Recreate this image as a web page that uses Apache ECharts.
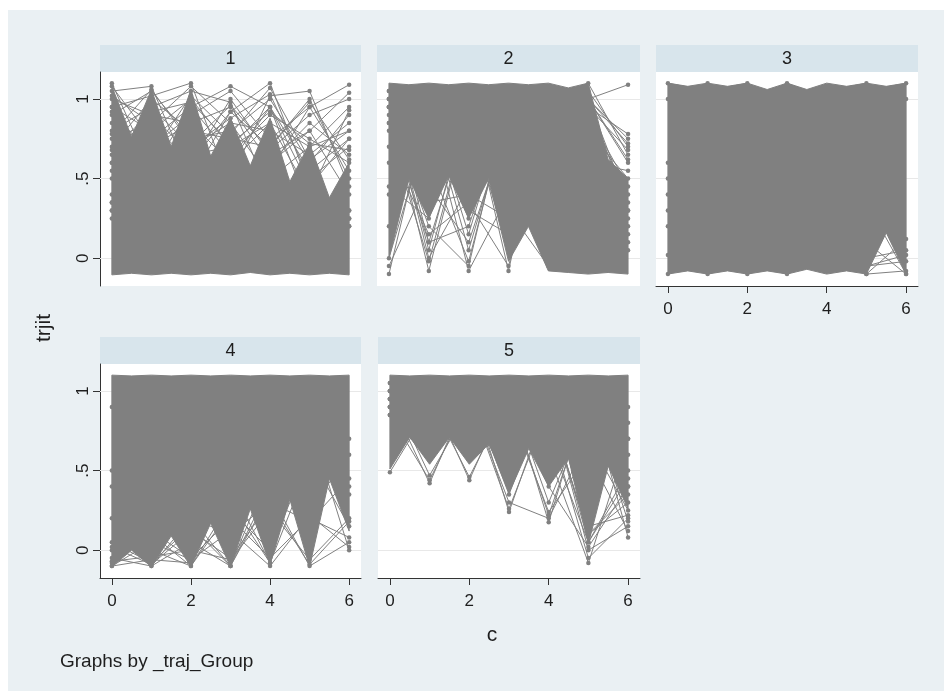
<!DOCTYPE html>
<html><head><meta charset="utf-8">
<script src="https://cdn.jsdelivr.net/npm/echarts@6/dist/echarts.min.js"></script>
<style>html,body{margin:0;padding:0;background:#fff}#c{width:944px;height:691px}</style>
</head><body><div id="c"></div>
<script>
// ---------- data ----------
const panelNames = ['1', '2', '3', '4', '5'];
const waveX = [0, 1, 2, 3, 4, 5, 6];
const bandX = [0, 0.5, 1, 1.5, 2, 2.5, 3, 3.5, 4, 4.5, 5, 5.5, 6];
const xTickValues = [0, 2, 4, 6];
const yTickValues = [0, 0.5, 1];
const yTickLabels = ['0', '.5', '1'];
const xTitle = 'c';
const yTitle = 'trjit';
const noteText = 'Graphs by _traj_Group';

// group 1: dense core (upper / lower outline) and sparse trajectories
const g1Upper = [1.08, 0.76, 1.06, 0.70, 1.06, 0.64, 0.88, 0.58, 0.88, 0.48, 0.72, 0.38, 0.60];
const g1Lower = [-0.105, -0.095, -0.105, -0.095, -0.105, -0.095, -0.105, -0.09, -0.105, -0.095, -0.105, -0.095, -0.105];
const g1Lines = [
  [1.10, 0.55, 0.40, 0.35, 0.30, 0.25, 0.20],
  [1.05, 1.08, 0.50, 0.40, 0.35, 0.30, 0.25],
  [0.95, 1.02, 1.10, 0.45, 0.35, 0.30, 0.20],
  [0.60, 0.95, 1.05, 0.98, 0.40, 0.35, 0.30],
  [0.50, 0.55, 0.95, 1.08, 0.95, 0.30, 0.25],
  [0.40, 0.45, 0.50, 0.92, 1.10, 0.45, 0.30],
  [0.35, 0.40, 0.45, 0.50, 1.02, 1.05, 0.45],
  [0.30, 0.35, 0.40, 0.45, 0.55, 0.95, 1.09],
  [0.30, 0.30, 0.35, 0.40, 0.60, 0.80, 1.04],
  [0.25, 0.30, 0.35, 0.60, 0.85, 0.40, 0.93],
  [0.35, 0.40, 0.70, 0.85, 0.50, 0.70, 0.80],
  [0.95, 0.80, 1.00, 0.70, 0.95, 0.55, 0.75],
  [1.00, 0.90, 0.85, 0.95, 0.60, 0.85, 0.65],
  [0.90, 1.05, 0.75, 0.80, 1.00, 0.60, 0.90],
  [0.85, 0.70, 0.90, 1.05, 0.75, 0.95, 0.55],
  [0.80, 0.95, 0.70, 0.88, 1.03, 0.50, 0.70],
  [1.08, 0.75, 0.95, 0.65, 0.90, 0.75, 0.60],
  [0.70, 1.00, 0.80, 0.75, 0.70, 1.00, 0.50],
  [0.75, 0.85, 1.08, 0.85, 0.80, 0.65, 0.85],
  [0.65, 0.80, 0.60, 1.00, 0.65, 0.80, 0.40],
  [0.60, 0.70, 0.85, 0.60, 0.95, 0.45, 0.75],
  [0.55, 0.90, 0.65, 0.70, 0.85, 0.70, 0.95],
  [1.02, 0.85, 0.60, 0.92, 0.70, 0.98, 0.62],
  [0.92, 0.65, 1.02, 0.78, 1.07, 0.62, 0.80],
  [0.78, 1.06, 0.72, 0.96, 0.68, 0.90, 1.00],
  [0.68, 0.92, 0.98, 0.72, 0.92, 0.72, 0.68]
];

// group 2
const g2Upper = [1.10, 1.09, 1.10, 1.09, 1.10, 1.09, 1.10, 1.09, 1.10, 1.07, 1.10, 0.62, 0.50];
const g2Lower = [0.00, 0.50, 0.25, 0.52, 0.25, 0.50, -0.02, 0.20, -0.08, -0.09, -0.10, -0.09, -0.10];
const g2Lines = [
  [0.95, -0.08, 0.90, 0.85, 0.95, 1.00, 0.30],
  [-0.10, 0.95, 0.05, 0.90, 1.00, 0.95, 0.20],
  [1.00, 0.05, 1.00, -0.08, 1.05, 0.90, 0.40],
  [0.90, 0.20, -0.05, 1.00, 0.10, 0.85, 0.10],
  [0.85, 0.30, 0.95, 0.10, 0.95, 1.00, 0.60],
  [1.05, 0.10, 0.20, 0.95, 0.90, 1.05, 0.70],
  [0.20, 1.00, 0.30, 0.15, 0.80, 0.95, 0.25],
  [0.95, 0.40, 0.85, 0.30, -0.05, 0.70, 0.05],
  [0.80, -0.02, 0.90, 0.95, 0.15, 0.95, 0.78],
  [1.00, 0.45, 0.10, 0.85, 1.00, 1.10, 0.65],
  [0.70, 0.15, 0.35, -0.05, 0.90, 0.80, 0.50],
  [0.60, 0.90, -0.08, 0.40, 0.95, 1.00, 1.09],
  [0.45, 0.25, 0.90, 0.20, 0.60, 1.00, 0.72],
  [0.95, 0.35, 0.40, 0.25, 1.00, 0.60, 0.55],
  [-0.05, 0.50, 0.95, 0.35, 1.00, 0.90, 0.45],
  [1.00, 0.00, 0.45, 0.90, 0.95, 1.00, 0.35],
  [0.40, 0.95, 0.15, 1.00, 0.85, 0.90, 0.30],
  [0.95, 0.60, -0.02, 0.95, 0.05, 0.95, 0.15],
  [0.85, 0.10, 0.90, 0.05, 0.95, 1.00, 0.62],
  [0.00, 0.85, 0.25, 0.95, 0.20, 1.00, 0.75],
  [1.05, 0.30, 0.95, 0.15, 1.00, 0.95, 0.68]
];

// group 3
const g3Upper = [1.10, 1.08, 1.10, 1.08, 1.10, 1.06, 1.10, 1.06, 1.10, 1.08, 1.10, 1.08, 1.10];
const g3Lower = [-0.10, -0.08, -0.10, -0.08, -0.10, -0.08, -0.10, -0.07, -0.10, -0.08, -0.10, 0.16, -0.10];
const g3Lines = [
  [1.10, 1.05, 1.10, 0.95, 1.05, 1.10, 1.00],
  [1.00, 1.10, 0.98, 1.10, 1.00, 1.05, 1.10],
  [-0.10, 0.00, -0.10, -0.02, -0.08, -0.05, 0.02],
  [0.02, -0.10, -0.03, -0.10, 0.00, -0.10, -0.08],
  [0.30, 0.20, 0.40, 0.50, 0.30, -0.05, -0.02],
  [0.60, 0.40, 0.30, 0.20, 0.40, 0.00, 0.05],
  [0.50, 0.60, 0.40, 0.30, 0.20, 0.10, -0.10],
  [0.20, 0.30, 0.10, 0.20, 0.10, -0.10, 0.12],
  [0.40, 0.30, 0.20, 0.30, 0.25, 0.35, -0.10]
];

// group 4
const g4Upper = [1.10, 1.095, 1.10, 1.095, 1.10, 1.095, 1.10, 1.095, 1.10, 1.095, 1.10, 1.095, 1.10];
const g4Lower = [-0.105, 0.00, -0.105, 0.09, -0.105, 0.17, -0.105, 0.26, -0.09, 0.32, -0.105, 0.45, 0.12];
const g4Lines = [
  [-0.10, -0.06, -0.08, 0.60, 0.80, 0.90, 0.70],
  [-0.05, -0.10, 0.05, -0.10, 0.50, 0.70, 0.40],
  [-0.08, 0.10, -0.10, 0.30, -0.08, 0.80, 0.00],
  [0.05, -0.08, 0.15, -0.10, 0.35, -0.10, 0.05],
  [0.00, 0.12, -0.05, 0.20, -0.05, 0.20, 0.08],
  [0.50, -0.10, 0.20, 0.10, 0.30, 0.18, 0.45],
  [0.20, 0.00, -0.10, 0.25, 0.00, 0.60, 0.15],
  [0.40, 0.30, 0.20, -0.10, 0.40, 0.25, 0.60],
  [0.90, 0.60, 0.50, 0.40, -0.08, 0.55, 0.35],
  [-0.10, 0.05, -0.06, 0.12, -0.10, 0.22, 0.02],
  [-0.07, -0.04, 0.00, -0.06, 0.25, -0.06, 0.20],
  [0.02, -0.09, 0.12, -0.05, 0.30, -0.09, 0.18]
];

// group 5
const g5Upper = [1.10, 1.095, 1.10, 1.095, 1.10, 1.095, 1.10, 1.095, 1.10, 1.095, 1.10, 1.095, 1.10];
const g5Lower = [0.51, 0.71, 0.54, 0.71, 0.54, 0.67, 0.36, 0.64, 0.40, 0.58, 0.04, 0.53, 0.26];
const g5Lines = [
  [0.49, 0.90, 0.95, 0.85, 0.90, 0.80, 0.70],
  [0.95, 0.42, 1.00, 0.90, 0.85, 0.95, 0.60],
  [1.00, 0.47, 0.90, 0.42, 1.00, 0.75, 0.90],
  [0.90, 1.00, 0.44, 1.00, 0.30, 0.90, 0.40],
  [0.85, 0.95, 1.05, 0.24, 0.95, 0.40, 0.80],
  [0.95, 0.90, 0.95, 0.30, 0.20, 0.70, 0.25],
  [1.00, 0.85, 0.90, 1.00, 0.175, 1.00, 0.08],
  [0.90, 1.00, 0.95, 0.80, 0.60, -0.08, 0.70],
  [0.85, 0.90, 1.00, 0.90, 0.95, 0.00, 0.15],
  [1.05, 0.95, 0.85, 0.95, 0.70, 0.05, 0.50],
  [0.95, 1.00, 0.90, 0.85, 0.80, -0.05, 0.20],
  [0.90, 0.85, 0.95, 0.60, 0.90, 0.10, 0.35],
  [1.00, 0.95, 1.00, 0.90, 0.24, 0.60, 0.12],
  [0.95, 1.00, 0.95, 0.26, 0.90, 0.10, 0.30],
  [1.00, 0.95, 0.46, 0.95, 0.22, 0.95, 0.18],
  [0.90, 1.00, 0.90, 0.95, 0.40, 0.02, 0.40],
  [1.05, 0.90, 1.00, 0.35, 1.00, 0.15, 0.22],
  [0.85, 0.44, 0.95, 1.00, 0.95, 0.05, 0.45]
];

const panelUpper = [g1Upper, g2Upper, g3Upper, g4Upper, g5Upper];
const panelLower = [g1Lower, g2Lower, g3Lower, g4Lower, g5Lower];
const panelLines = [g1Lines, g2Lines, g3Lines, g4Lines, g5Lines];

// ---------- layout / style ----------
const layout = [
  { left: 100, top: 72, width: 261, height: 214, showX: false, showY: true },
  { left: 377, top: 72, width: 263, height: 214, showX: false, showY: false },
  { left: 656, top: 72, width: 262, height: 214, showX: true, showY: false },
  { left: 100, top: 364, width: 261, height: 214, showX: true, showY: true },
  { left: 378, top: 364, width: 262, height: 214, showX: true, showY: false }
];
const headerH = 27;
const GREY = '#808080';
const FONT = '"Liberation Sans", Arial, sans-serif';
const AXIS_COLOR = '#333';
const TEXT_COLOR = '#1e1e1e';

const grids = layout.map(l => ({
  left: l.left, top: l.top, width: l.width, height: l.height,
  show: true, backgroundColor: '#ffffff', borderWidth: 0
}));

const xAxes = layout.map((l, i) => ({
  type: 'value', gridIndex: i, min: -0.3, max: 6.3,
  axisLine: { show: l.showX, onZero: false, lineStyle: { color: AXIS_COLOR, width: 1 } },
  axisTick: { show: l.showX, customValues: xTickValues, length: 7, lineStyle: { color: AXIS_COLOR } },
  axisLabel: { show: l.showX, customValues: xTickValues, margin: 15, fontSize: 17, fontFamily: FONT, color: TEXT_COLOR },
  splitLine: { show: false }
}));

const yAxes = layout.map((l, i) => ({
  type: 'value', gridIndex: i, min: -0.175, max: 1.17,
  axisLine: { show: l.showY, onZero: false, lineStyle: { color: AXIS_COLOR, width: 1 } },
  axisTick: { show: l.showY, customValues: yTickValues, length: 7, lineStyle: { color: AXIS_COLOR } },
  axisLabel: {
    show: l.showY, customValues: yTickValues, rotate: 90, margin: 8, fontSize: 17, fontFamily: FONT, color: TEXT_COLOR,
    formatter: v => { const k = yTickValues.findIndex(t => Math.abs(t - v) < 1e-9); return k >= 0 ? yTickLabels[k] : ''; }
  },
  splitLine: { show: false }
}));

const series = [];
layout.forEach((l, i) => {
  // faint horizontal grid lines (under the data)
  series.push({
    type: 'line', xAxisIndex: i, yAxisIndex: i, data: [], z: 1, silent: true,
    markLine: {
      z: 1, silent: true, symbol: ['none', 'none'], label: { show: false },
      lineStyle: { color: '#e8e8e8', width: 1, type: 'solid' },
      data: yTickValues.map(v => ({ yAxis: v }))
    }
  });
  // dense core of overlapping trajectories
  const up = panelUpper[i], lo = panelLower[i];
  series.push({
    type: 'custom', xAxisIndex: i, yAxisIndex: i, z: 2, silent: true,
    data: [[bandX[0], up[0]]],
    renderItem: function (params, api) {
      const pts = bandX.map((x, k) => api.coord([x, up[k]]))
        .concat(bandX.map((x, k) => api.coord([x, lo[k]])).reverse());
      return { type: 'polygon', shape: { points: pts }, style: { fill: GREY, stroke: GREY, lineWidth: 1 } };
    }
  });
  // individual trajectories
  panelLines[i].forEach(vals => {
    series.push({
      type: 'line', xAxisIndex: i, yAxisIndex: i, z: 3, silent: true,
      data: waveX.map((x, k) => [x, vals[k]]),
      symbol: 'circle', symbolSize: 4.5, showSymbol: true,
      itemStyle: { color: GREY }, lineStyle: { color: GREY, width: 1 }
    });
  });
});

const graphics = [
  { type: 'rect', z: -10, shape: { x: 8, y: 10, width: 944, height: 691 }, style: { fill: '#eaf0f3' } }
];
layout.forEach((l, i) => {
  graphics.push({ type: 'rect', z: -5, shape: { x: l.left, y: l.top - headerH, width: l.width, height: headerH }, style: { fill: '#d8e5ec' } });
  graphics.push({ type: 'text', z: 5, x: l.left + l.width / 2, y: l.top - headerH / 2 + 1,
    style: { text: panelNames[i], font: '18px ' + FONT, fill: TEXT_COLOR, textAlign: 'center', textVerticalAlign: 'middle' } });
});
graphics.push({ type: 'text', z: 5, x: 44, y: 328, rotation: Math.PI / 2,
  style: { text: yTitle, font: '21px ' + FONT, fill: TEXT_COLOR, textAlign: 'center', textVerticalAlign: 'middle' } });
graphics.push({ type: 'text', z: 5, x: 492, y: 635,
  style: { text: xTitle, font: '21px ' + FONT, fill: TEXT_COLOR, textAlign: 'center', textVerticalAlign: 'middle' } });
graphics.push({ type: 'text', z: 5, x: 60, y: 662,
  style: { text: noteText, font: '19px ' + FONT, fill: TEXT_COLOR, textAlign: 'left', textVerticalAlign: 'middle' } });

const chart = echarts.init(document.getElementById('c'), null, { renderer: 'canvas' });
chart.setOption({
  backgroundColor: '#ffffff',
  animation: false,
  grid: grids,
  xAxis: xAxes,
  yAxis: yAxes,
  series: series,
  graphic: { elements: graphics }
});
</script></body></html>
